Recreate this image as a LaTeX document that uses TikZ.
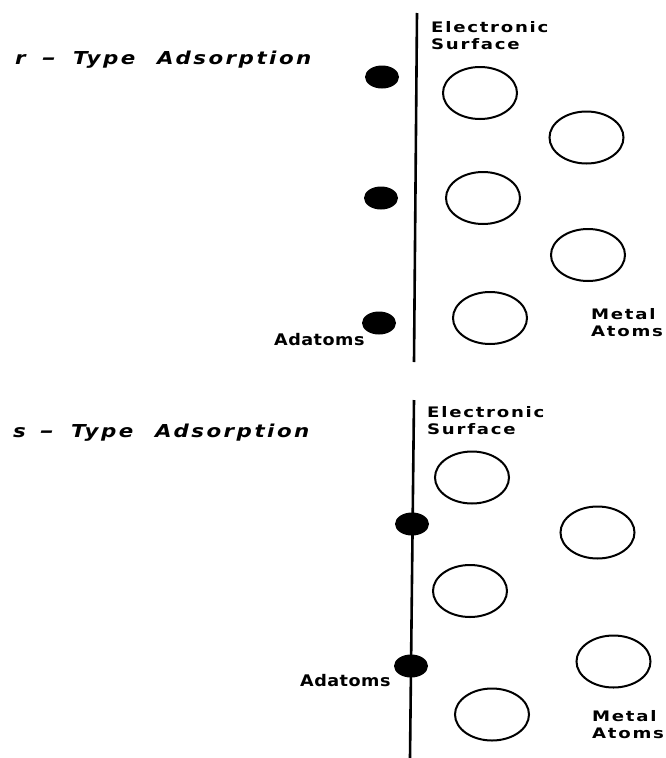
\documentclass[tikz,border=0pt]{standalone}
\usepackage{fontspec}
\setmainfont{DejaVu Sans}
\newfontfamily\labfont[FakeStretch=1.25, LetterSpace=12]{DejaVu Sans Bold}
\newfontfamily\adfont[FakeStretch=1.1, LetterSpace=3]{DejaVu Sans Bold}
\newfontfamily\titfont[FakeStretch=1.2, LetterSpace=14]{DejaVu Sans Bold Oblique}
\usetikzlibrary{shapes.geometric}
\newcommand{\adtitle}[1]{\makebox[27pt][l]{#1}\makebox[31pt][l]{\scalebox{1.3}[1.1]{–}}\makebox[84pt][l]{Type}Adsorption}
\begin{document}
\begin{tikzpicture}[x=1pt,y=-1pt,
  metal/.style={ellipse, draw, line width=2pt, minimum width=74pt, minimum height=52pt, inner sep=0pt},
  adatom/.style={ellipse, fill=black, minimum width=34pt, minimum height=23pt, inner sep=0pt},
  surf/.style={line width=2.6pt},
  lab/.style={font=\labfont\fontsize{14.5}{17}\selectfont, align=left, inner sep=0pt, anchor=north west},
  adlab/.style={font=\adfont\fontsize{16}{18}\selectfont, inner sep=0pt, anchor=base west},
  title/.style={font=\titfont\fontsize{17.8}{20}\selectfont, inner sep=0pt, anchor=base west}]
\useasboundingbox (0,0) rectangle (665,758);
% ---------- r-type panel ----------
\coordinate (s1top) at (417,13);
\coordinate (s1bot) at (414,362);
\draw[surf] (s1top) -- (s1bot);
\node[title] (t1) at (15,64) {\adtitle{r}};
\node[lab] (es1) at (431,21) {Electronic\\Surface};
\node[adatom] (a11) at (382,77) {};
\node[adatom] (a12) at (381,198) {};
\node[adatom] (a13) at (379,323) {};
\node[metal] (m11) at (480,93) {};
\node[metal] (m12) at (586.5,137.5) {};
\node[metal] (m13) at (483,198) {};
\node[metal] (m14) at (588,255) {};
\node[metal] (m15) at (490,318) {};
\node[adlab] (ad1) at (274,345) {Adatoms};
\node[lab] (ma1) at (591,308) {Metal\\Atoms};
% ---------- s-type panel ----------
\coordinate (s2top) at (414,400);
\coordinate (s2bot) at (410,758);
\draw[surf] (s2top) -- (s2bot);
\node[title] (t2) at (13,437) {\adtitle{s}};
\node[lab] (es2) at (427,406) {Electronic\\Surface};
\node[adatom] (a21) at (412,524) {};
\node[adatom] (a22) at (411,666) {};
\node[metal] (m21) at (472,477.5) {};
\node[metal] (m22) at (597.5,532.5) {};
\node[metal] (m23) at (470,591) {};
\node[metal] (m24) at (613.5,661.5) {};
\node[metal] (m25) at (492,714.5) {};
\node[adlab] (ad2) at (300,686) {Adatoms};
\node[lab] (ma2) at (592,710) {Metal\\Atoms};
\end{tikzpicture}
\end{document}
